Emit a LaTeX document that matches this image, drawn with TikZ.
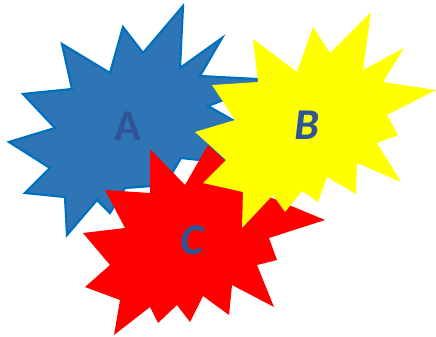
\documentclass[tikz,border=0pt]{standalone}
\usepackage{fontspec}
\usepackage{xcolor}
\usepackage{tikz}
\newfontfamily\starfont{Carlito}
\newfontfamily\starslant{Carlito}[FakeSlant=0.12]
\definecolor{burstblue}{HTML}{2E75B6}
\definecolor{burstline}{HTML}{0070C0}
\definecolor{burstred}{HTML}{FF0000}
\definecolor{burstyellow}{HTML}{FFFF00}
\definecolor{lettblue}{HTML}{2F5597}

\begin{document}
\begin{tikzpicture}[x=1pt,y=-1pt,burst/.style={line join=miter},lbl/.style={font=\fontsize{44}{44}\selectfont\bfseries,text=lettblue}]
  \useasboundingbox (0,0) rectangle (436,337);
  % A
  \draw[burst,fill=burstblue,draw=burstline,line width=2.2pt]
    (183,6) -- (180,68) -- (222,38) -- (200,76) -- (275,80) -- (208,106) -- (250,130) -- (200,134)
    -- (228,163) -- (181,158) -- (165,185) -- (125,188) -- (110,213) -- (97,200) -- (67,235)
    -- (65,197) -- (25,193) -- (50,168) -- (9,142) -- (55,128) -- (23,94) -- (72,89) -- (62,44)
    -- (110,73) -- (123,27) -- (143,53) -- cycle;
  % C
  \fill[burst,burstred]
    (150,149) -- (185,185) -- (208,145) -- (260,193) -- (325,220) -- (269,238) -- (277,260)
    -- (257,265) -- (274,307) -- (232,285) -- (229,315) -- (203,296) -- (190,322) -- (177,305)
    -- (158,323) -- (150,307) -- (114,335) -- (120,300) -- (85,287) -- (110,265) -- (83,233)
    -- (125,228) -- (105,190) -- (150,193) -- cycle;
  % B
  \fill[burst,burstyellow]
    (371,12) -- (363,70) -- (404,48) -- (383,82) -- (436,90) -- (387,115) -- (398,135) -- (377,143)
    -- (401,182) -- (357,163) -- (356,194) -- (327,177) -- (318,202) -- (302,191) -- (285,212)
    -- (273,195) -- (242,228) -- (243,192) -- (203,183) -- (226,160) -- (195,132) -- (235,120)
    -- (212,85) -- (258,82) -- (253,39) -- (297,72) -- (313,27) -- (330,53) -- cycle;
  \node[lbl,font=\starfont\fontsize{44}{44}\selectfont\bfseries] (a) at (128,126) {A};
  \node[lbl,font=\starslant\fontsize{44}{44}\selectfont\bfseries] (b) at (306,125) {B};
  \node[lbl,font=\starslant\fontsize{44}{44}\selectfont\bfseries] (c) at (191,240) {C};
\end{tikzpicture}
\end{document}
